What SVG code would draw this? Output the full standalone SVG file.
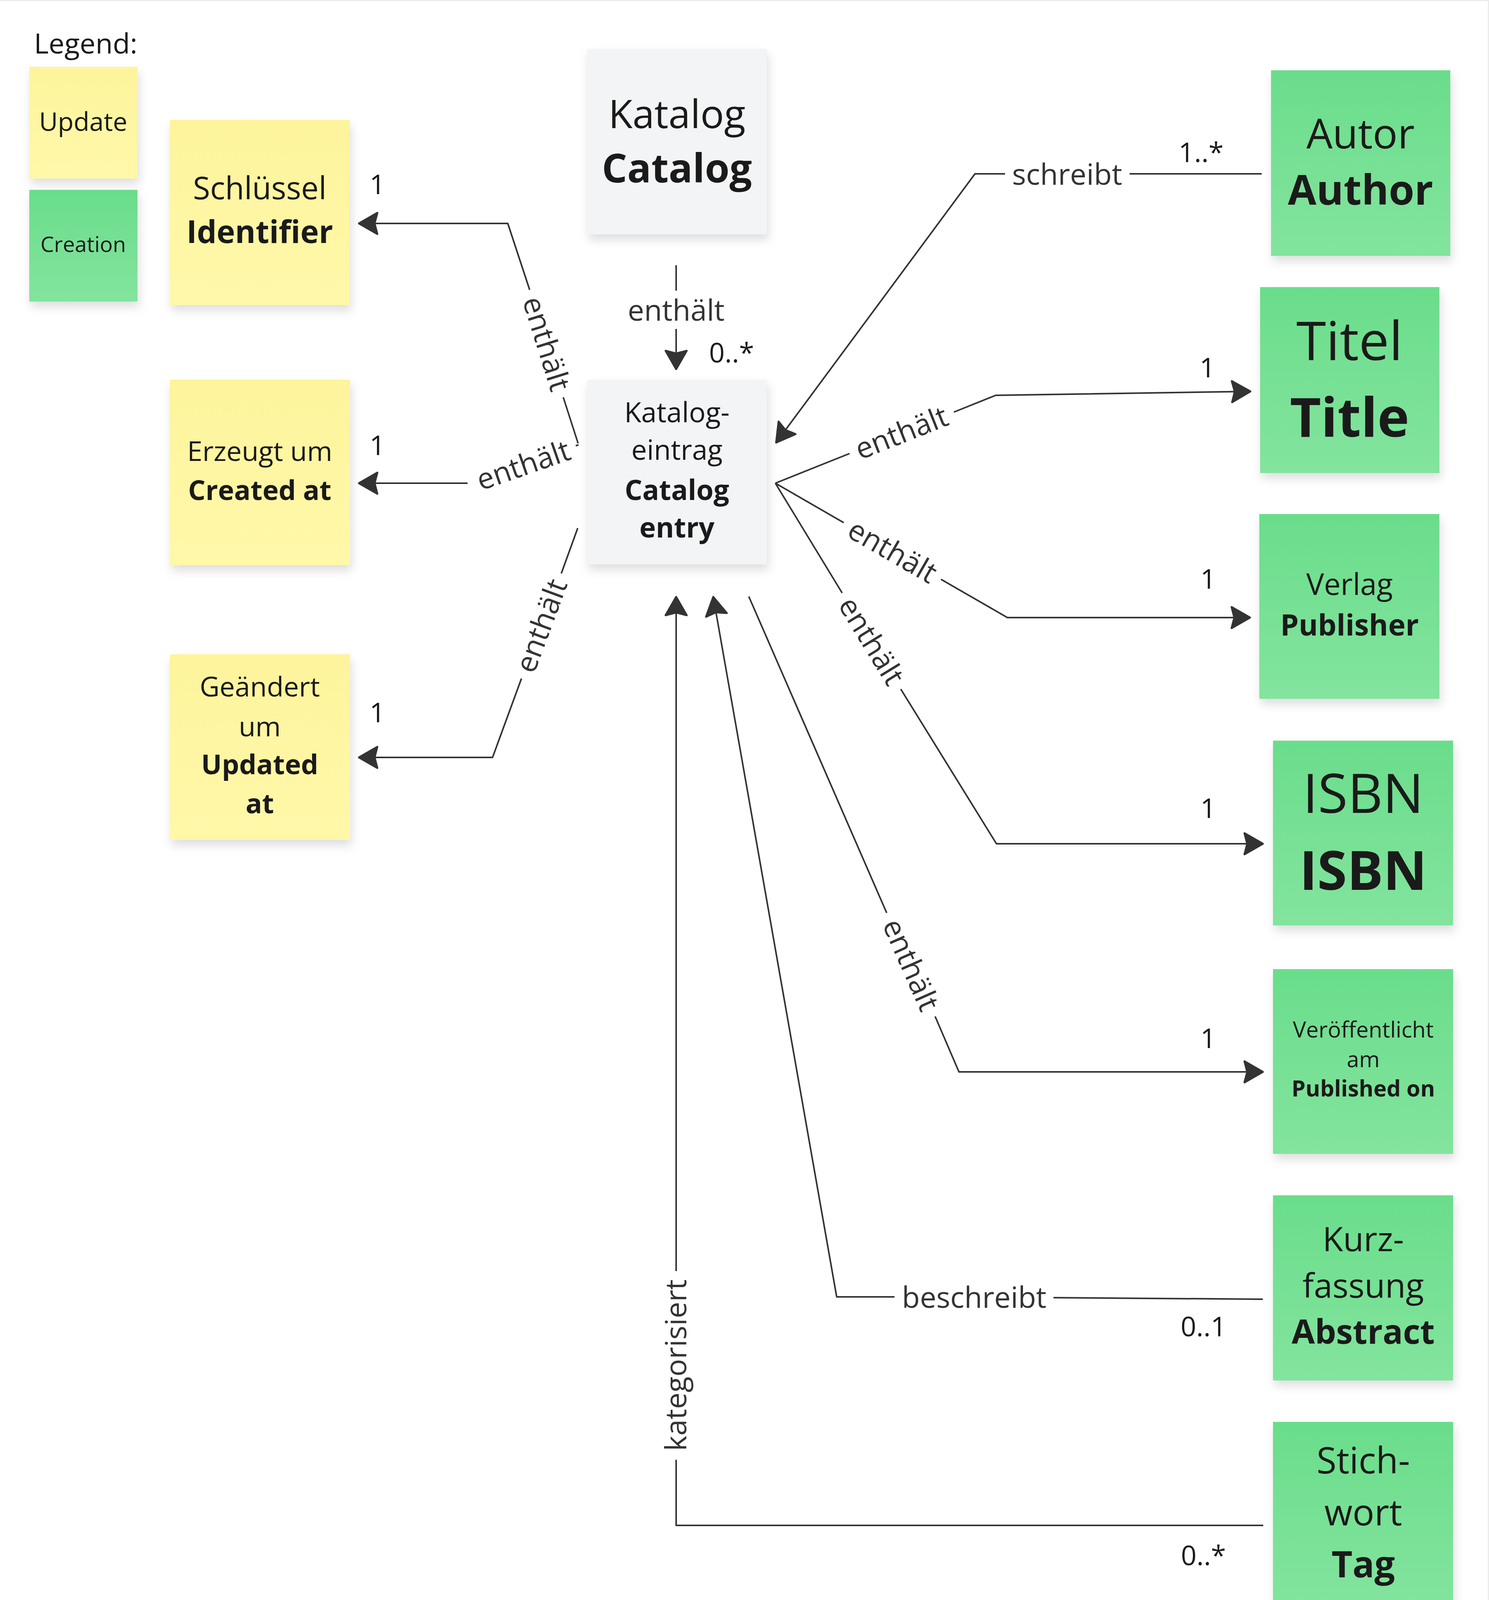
<svg xmlns="http://www.w3.org/2000/svg" width="3812" height="4196" viewBox="0 0 3812 4196">
<defs>
<style>
text{font-family:"Open Sans","Noto Sans","Liberation Sans",sans-serif;}
.n text{fill:#1a1a1a;text-anchor:middle;}
.b{font-weight:700;}
.lbl{font-size:75px;fill:#333333;text-anchor:middle;}
.m{font-size:70px;fill:#1a1a1a;text-anchor:middle;}
.e{fill:none;stroke:#333333;stroke-width:4;stroke-linejoin:round;}
.a{marker-end:url(#arr);}
.y{fill:url(#gy);filter:url(#sh);}
.g{fill:url(#gg);filter:url(#sh);}
.w{fill:#F3F4F6;filter:url(#sh);}
</style>
<linearGradient id="gy" x1="0" y1="0" x2="0" y2="1">
<stop offset="0" stop-color="#FDF49C"/>
<stop offset="1" stop-color="#FFF8A9"/>
</linearGradient>
<linearGradient id="gg" x1="0" y1="0" x2="0" y2="1">
<stop offset="0" stop-color="#6ADD8B"/>
<stop offset="1" stop-color="#83E49E"/>
</linearGradient>
<filter id="sh" x="-10%" y="-10%" width="125%" height="130%">
<feDropShadow dx="4" dy="14" stdDeviation="12" flood-color="#000" flood-opacity="0.13"/>
</filter>
<marker id="arr" markerUnits="userSpaceOnUse" orient="auto" markerWidth="120" markerHeight="120" refX="0" refY="0" overflow="visible">
<path d="M0,0 L-47,-27 L-40,0 L-47,27 Z" fill="#333333" stroke="#333333" stroke-width="5" stroke-linejoin="round"/>
</marker>
</defs>
<rect x="0" y="0" width="3812" height="4196" fill="#ffffff"/>
<path d="M0,1.5 H3810.5 V4196" fill="none" stroke="#ececec" stroke-width="3"/>

<g id="legend" class="n">
<text x="87" y="137" font-size="72" style="text-anchor:start">Legend:</text>
<g id="legend-update"><rect class="y" x="75" y="171" width="277" height="286"/><text x="213" y="335" font-size="66">Update</text></g>
<g id="legend-creation"><rect class="g" x="75" y="486" width="277" height="286"/><text x="213" y="645" font-size="55">Creation</text></g>
</g>

<g id="identifier" class="n"><rect class="y" x="435" y="307" width="460" height="474"/>
<text x="665" y="510" font-size="80">Schlüssel</text><text class="b" x="665" y="622" font-size="80">Identifier</text></g>

<g id="created-at" class="n"><rect class="y" x="435" y="972" width="461" height="475"/>
<text x="665" y="1180" font-size="70">Erzeugt um</text><text class="b" x="665" y="1280" font-size="70">Created at</text></g>

<g id="updated-at" class="n"><rect class="y" x="435" y="1675" width="461" height="475"/>
<text x="665" y="1783" font-size="70">Geändert</text><text x="665" y="1885" font-size="70">um</text>
<text class="b" x="665" y="1982" font-size="70">Updated</text><text class="b" x="665" y="2082" font-size="70">at</text></g>

<g id="catalog" class="n"><rect class="w" x="1503" y="125" width="460" height="475"/>
<text x="1733" y="328" font-size="101">Katalog</text><text class="b" x="1733" y="467" font-size="102">Catalog</text></g>

<g id="catalog-entry" class="n"><rect class="w" x="1503" y="972" width="460" height="473"/>
<text x="1733" y="1081" font-size="71">Katalog-</text><text x="1733" y="1177" font-size="71">eintrag</text>
<text class="b" x="1733" y="1280" font-size="71">Catalog</text><text class="b" x="1733" y="1376" font-size="71">entry</text></g>

<g id="author" class="n"><rect class="g" x="3254" y="180" width="459" height="475"/>
<text x="3483" y="380" font-size="106">Autor</text><text class="b" x="3483" y="524" font-size="106">Author</text></g>

<g id="title" class="n"><rect class="g" x="3226" y="735" width="459" height="476"/>
<text x="3455" y="922" font-size="138">Titel</text><text class="b" x="3455" y="1118" font-size="138">Title</text></g>

<g id="publisher" class="n"><rect class="g" x="3224" y="1316" width="461" height="473"/>
<text x="3455" y="1523" font-size="76">Verlag</text><text class="b" x="3455" y="1627" font-size="75">Publisher</text></g>

<g id="isbn" class="n"><rect class="g" x="3259" y="1896" width="461" height="473"/>
<text x="3490" y="2081" font-size="139">ISBN</text><text class="b" x="3490" y="2278" font-size="138">ISBN</text></g>

<g id="published-on" class="n"><rect class="g" x="3259" y="2481" width="461" height="473"/>
<text x="3490" y="2656" font-size="57">Veröffentlicht</text><text x="3490" y="2732" font-size="57">am</text>
<text class="b" x="3490" y="2807" font-size="57">Published on</text></g>

<g id="abstract" class="n"><rect class="g" x="3259" y="3060" width="461" height="474"/>
<text x="3490" y="3203" font-size="86">Kurz-</text><text x="3490" y="3322" font-size="86">fassung</text>
<text class="b" x="3490" y="3440" font-size="86">Abstract</text></g>

<g id="tag" class="n"><rect class="g" x="3259" y="3640" width="461" height="475"/>
<text x="3490" y="3772" font-size="93">Stich-</text><text x="3490" y="3905" font-size="93">wort</text>
<text class="b" x="3490" y="4038" font-size="93">Tag</text></g>

<g id="connectors">
<!-- Catalog -> Catalog entry -->
<path class="e" d="M1731,679 V744"/>
<path class="e a" d="M1731,842 V945"/>
<text class="lbl" transform="translate(1731 795)" y="26">enthält</text>
<text class="m" x="1873" y="928">0..*</text>

<!-- entry -> Identifier -->
<path class="e a" d="M1356,742 L1300,572 H919"/>
<path class="e" d="M1442,1017 L1480,1135"/>
<text class="lbl" transform="translate(1399 880) rotate(72.6)" y="26">enthält</text>
<text class="m" x="966" y="497">1</text>

<!-- entry -> Created at -->
<path class="e a" d="M1197,1237 H919"/>
<path class="e" d="M1474,1141 L1481,1139"/>
<text class="lbl" transform="translate(1340 1191) rotate(-19.2)" y="26">enthält</text>
<text class="m" x="966" y="1165">1</text>

<!-- entry -> Updated at -->
<path class="e" d="M1479,1352 L1437,1468"/>
<path class="e a" d="M1335,1737 L1261,1939 H919"/>
<text class="lbl" transform="translate(1386 1602) rotate(-69.6)" y="26">enthält</text>
<text class="m" x="966" y="1849">1</text>

<!-- Author schreibt entry -->
<path class="e" d="M3230,445 H2892"/>
<path class="e a" d="M2573,445 H2496 L1987,1133"/>
<text class="lbl" transform="translate(2732 447)" y="26">schreibt</text>
<text class="m" x="3075" y="415">1..*</text>

<!-- entry -> Title -->
<path class="e" d="M1985,1237 L2175,1161"/>
<path class="e a" d="M2442,1055 L2549,1012 L3201,1002"/>
<text class="lbl" transform="translate(2308 1108) rotate(-21.6)" y="26">enthält</text>
<text class="m" x="3091" y="966">1</text>

<!-- entry -> Publisher -->
<path class="e" d="M1985,1237 L2160,1338"/>
<path class="e a" d="M2409,1483 L2579,1581 H3200"/>
<text class="lbl" transform="translate(2285 1411) rotate(30)" y="26">enthält</text>
<text class="m" x="3093" y="1507">1</text>

<!-- entry -> ISBN -->
<path class="e" d="M1985,1237 L2156,1518"/>
<path class="e a" d="M2306,1764 L2551,2160 H3233"/>
<text class="lbl" transform="translate(2231 1641) rotate(58.5)" y="26">enthält</text>
<text class="m" x="3093" y="2094">1</text>

<!-- entry -> Published on -->
<path class="e" d="M1917,1527 L2270,2337"/>
<path class="e a" d="M2394,2602 L2455,2744 H3233"/>
<text class="lbl" transform="translate(2332 2470) rotate(66.1)" y="26">enthält</text>
<text class="m" x="3093" y="2683">1</text>

<!-- Abstract beschreibt entry -->
<path class="e" d="M3233,3326 L2697,3322"/>
<path class="e a" d="M2290,3320 H2142 L1826,1528"/>
<text class="lbl" transform="translate(2494 3322)" y="26">beschreibt</text>
<text class="m" x="3081" y="3421">0..1</text>

<!-- Tag kategorisiert entry -->
<path class="e" d="M3234,3905 H1731 V3737"/>
<path class="e a" d="M1731,3254 V1528"/>
<text class="lbl" transform="translate(1731 3495) rotate(-90)" y="26">kategorisiert</text>
<text class="m" x="3081" y="4007">0..*</text>
</g>
</svg>
